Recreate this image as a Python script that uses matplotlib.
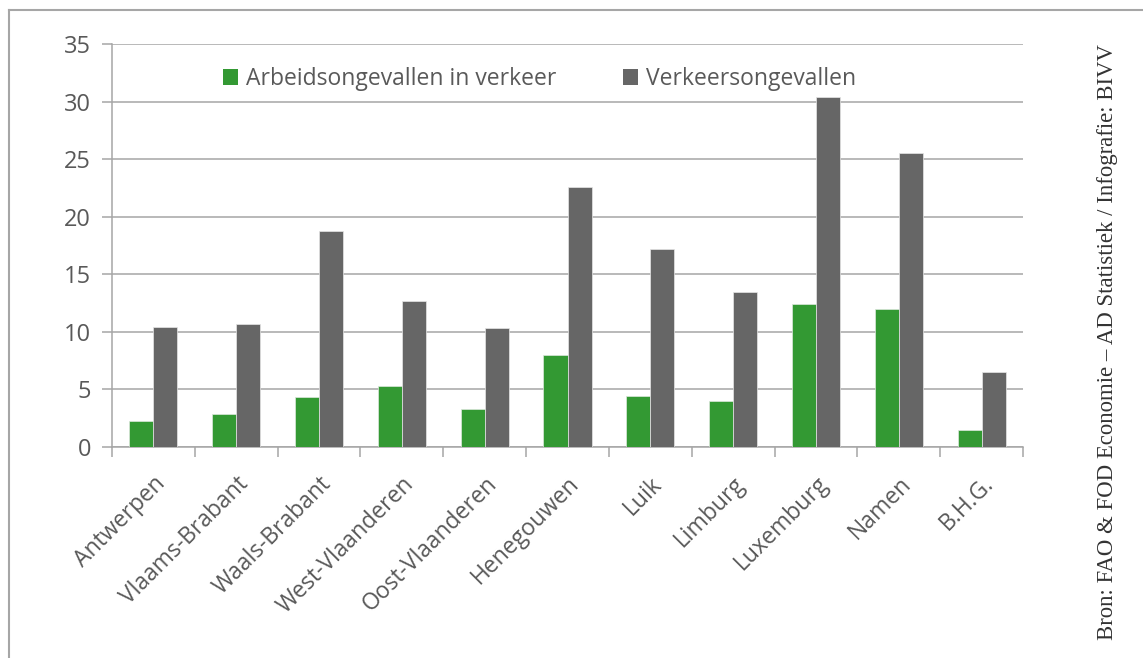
import numpy as np
import matplotlib
matplotlib.use('Agg')
import matplotlib.pyplot as plt
from matplotlib.patches import Patch
from matplotlib.lines import Line2D

# Provincies en ongevallen per provincie
provincies = ['Antwerpen', 'Vlaams-Brabant', 'Waals-Brabant', 'West-Vlaanderen',
              'Oost-Vlaanderen', 'Henegouwen', 'Luik', 'Limburg', 'Luxemburg',
              'Namen', 'B.H.G.']
arbeid_verkeer = [2.3, 2.9, 4.3, 5.3, 3.3, 8.0, 4.4, 4.0, 12.4, 12.0, 1.5]
verkeer = [10.4, 10.7, 18.8, 12.7, 10.3, 22.6, 17.2, 13.5, 30.4, 25.5, 6.5]
y_ticks = [0, 5, 10, 15, 20, 25, 30, 35]

groen = '#339933'
grijs = '#666666'
tekst = '#595959'
lijn = '#a6a6a6'

plt.rcParams['font.family'] = ['Open Sans', 'DejaVu Sans']

fig = plt.figure(figsize=(11.43, 6.58), dpi=100)
W, H = 1143, 658
ax = fig.add_axes([112 / W, 1 - 447 / H, (1023 - 112) / W, (447 - 44) / H])

x = np.arange(len(provincies))
b = 0.29
ax.bar(x - b / 2, arbeid_verkeer, b, color=groen, edgecolor='#dde8dd', linewidth=0.5, zorder=3)
ax.bar(x + b / 2, verkeer, b, color=grijs, edgecolor='#e6e6e6', linewidth=0.5, zorder=3)

ax.set_xlim(-0.5, len(provincies) - 0.5)
ax.set_ylim(0, 35)
ax.set_yticks(y_ticks)
ax.yaxis.grid(True, color=lijn, linewidth=1.1, zorder=0)
ax.set_axisbelow(True)

ax.set_xticks(x)
ax.set_xticklabels(provincies, rotation=45, ha='right', rotation_mode='anchor')
ax.set_xticks(np.arange(-0.5, len(provincies)), minor=True)
ax.tick_params(axis='x', which='major', length=0, pad=18, labelsize=16.5, labelcolor=tekst)
ax.tick_params(axis='x', which='minor', length=7, width=1.1, color=lijn, direction='out')
ax.tick_params(axis='y', length=7, width=1.1, color=lijn, labelsize=17, labelcolor=tekst, pad=8)

for kant in ['top', 'right']:
    ax.spines[kant].set_visible(False)
for kant in ['left', 'bottom']:
    ax.spines[kant].set_color(lijn)
    ax.spines[kant].set_linewidth(1.1)

handles = [Patch(facecolor=groen, edgecolor='none'), Patch(facecolor=grijs, edgecolor='none')]
leg = ax.legend(handles, ['Arbeidsongevallen in verkeer', 'Verkeersongevallen'],
                loc='center', bbox_to_anchor=(0.469, 0.913), ncol=2, frameon=False,
                fontsize=16.5, handlelength=0.65, handleheight=0.65, handletextpad=0.35,
                columnspacing=2.9)
for t in leg.get_texts():
    t.set_color(tekst)

# kader rond de grafiek
fig.add_artist(Line2D([9 / W, 1], [1 - 10 / H, 1 - 10 / H], color=lijn, linewidth=1.5))
fig.add_artist(Line2D([9 / W, 9 / W], [0, 1 - 10 / H], color=lijn, linewidth=1.5))

fig.text(1108 / W, 1 - 44 / H, 'Bron: FAO & FOD Economie – AD Statistiek / Infografie: BIVV',
         rotation=90, rotation_mode='anchor', ha='right', va='center',
         family=['Liberation Serif', 'DejaVu Serif'], fontsize=16.4, color='#333333')

fig.savefig('out.png', dpi=100)
